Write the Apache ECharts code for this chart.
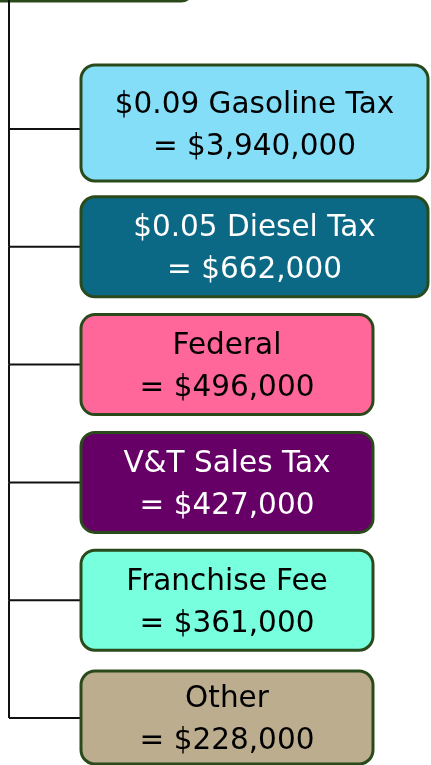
<!DOCTYPE html>
<html>
<head>
<meta charset="utf-8">
<script src="https://cdn.jsdelivr.net/npm/echarts@6/dist/echarts.min.js"></script>
<style>
  html, body { margin: 0; padding: 0; background: #fff; }
  #main { width: 431px; height: 765px; }
</style>
</head>
<body>
<div id="main"></div>
<script>
// revenue sources under the (cropped) parent box
var sources = ['$0.09 Gasoline Tax', '$0.05 Diesel Tax', 'Federal', 'V&T Sales Tax', 'Franchise Fee', 'Other'];
var amounts = [3940000, 662000, 496000, 427000, 361000, 228000];
var fillColors = ['#84def8', '#0b6985', '#ff6699', '#660066', '#77ffde', '#bbad8d'];
var textColors = ['#000', '#fff', '#000', '#fff', '#000', '#000'];

var BORDER = '#2a4a1c';
var TRUNK_X = 9;
var BOX_X = 81;

var myChart = echarts.init(document.getElementById('main'));

myChart.setOption({
    animation: false,
    grid: { left: 0, right: 0, top: 129, bottom: 47 },
    xAxis: { type: 'value', min: 0, max: 1, show: false },
    yAxis: {
        type: 'category',
        data: sources,
        inverse: true,
        boundaryGap: false,
        show: false
    },
    graphic: [{
        // bottom edge of the parent box, cut off by the top of the picture
        type: 'rect',
        shape: { x: -30, y: -60, width: 223, height: 61, r: 12 },
        style: { fill: 'none', stroke: BORDER, lineWidth: 3 }
    }],
    series: [{
        type: 'custom',
        clip: false,
        data: sources.map(function (s, i) { return [0, i]; }),
        renderItem: function (params, api) {
            var i = params.dataIndex;
            var last = sources.length - 1;
            var cy = api.coord([0, i])[1];
            var prevY = i === 0 ? 0 : api.coord([0, i - 1])[1];
            var w = i < 2 ? 347 : 292;
            // first box is taller and sits a bit higher than its connector
            var top = i === 0 ? cy - 64 : cy - (i === last ? 47 : 50);
            var h = i === 0 ? 116 : (i === last ? 93 : 100);
            var label = sources[i] + '\n= $' + amounts[i].toLocaleString('en-US');
            return {
                type: 'group',
                children: [{
                    type: 'line',
                    shape: { x1: TRUNK_X, y1: prevY, x2: TRUNK_X, y2: cy },
                    style: { stroke: '#111', lineWidth: 2 }
                }, {
                    type: 'line',
                    shape: { x1: TRUNK_X, y1: cy, x2: BOX_X, y2: cy },
                    style: { stroke: '#111', lineWidth: 2 }
                }, {
                    type: 'rect',
                    shape: { x: BOX_X, y: top, width: w, height: h, r: 14 },
                    style: { fill: fillColors[i], stroke: BORDER, lineWidth: 3 }
                }, {
                    type: 'text',
                    style: {
                        x: BOX_X + w / 2,
                        y: top + h / 2 + 3,
                        text: label,
                        align: 'center',
                        verticalAlign: 'middle',
                        fill: textColors[i],
                        fontFamily: 'DejaVu Sans',
                        fontSize: 29.5,
                        lineHeight: 42
                    }
                }]
            };
        }
    }]
});
</script>
</body>
</html>
